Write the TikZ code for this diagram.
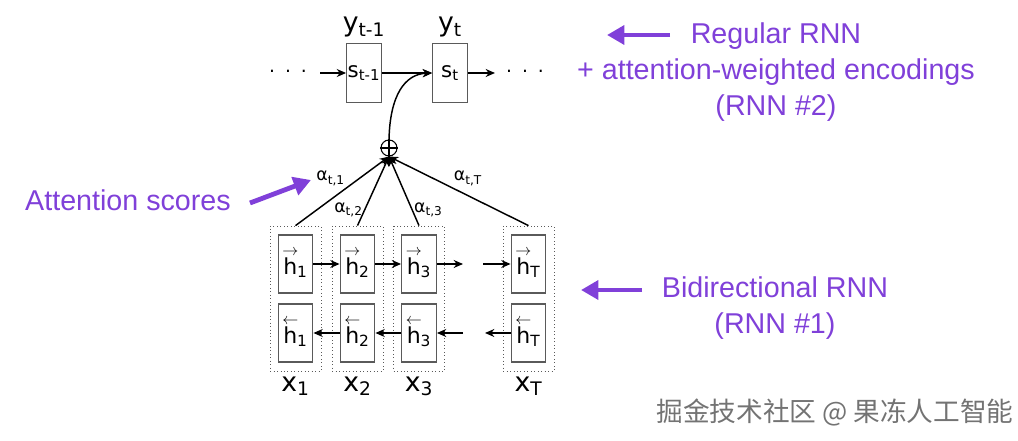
\documentclass[tikz,border=0pt]{standalone}
\usepackage{amsmath}
\usepackage{fontspec}
\setmainfont{DejaVu Sans}
\newfontfamily\notefont{Liberation Sans}
\newfontfamily\cjkfont{Noto Sans CJK SC}
\usetikzlibrary{arrows.meta, positioning, fit, calc}
\definecolor{notepurple}{RGB}{128,64,217}
\definecolor{boxgray}{RGB}{90,90,90}

% hidden state with direction arrow
\newcommand{\hfw}[1]{\makebox[0pt][l]{\raisebox{0.84em}{\makebox[0.634em]{\fontsize{12.5}{12.5}\selectfont$\rightarrow$}}}h\textsubscript{#1}}
\newcommand{\hbw}[1]{\makebox[0pt][l]{\raisebox{0.84em}{\makebox[0.634em]{\fontsize{12.5}{12.5}\selectfont$\leftarrow$}}}h\textsubscript{#1}}

\begin{document}
\begin{tikzpicture}[
    x=0.75pt, y=-0.75pt,
    >={Stealth[length=7pt,width=6pt]},
    hbox/.style={draw=boxgray, line width=0.9pt, minimum width=26pt, minimum height=43.5pt, inner sep=0pt, font=\fontsize{16.5}{16.5}\selectfont},
    sbox/.style={draw=boxgray, line width=0.9pt, minimum width=26pt, minimum height=44pt, inner sep=0pt, font=\fontsize{16}{16}\selectfont},
    colbox/.style={draw=boxgray, dotted, line width=0.6pt, inner xsep=5.6pt, inner ysep=6.3pt},
    outlabel/.style={font=\fontsize{20}{20}\selectfont, inner sep=1pt},
    wlabel/.style={font=\fontsize{13}{13}\selectfont, inner sep=1pt},
    dotlabel/.style={font=\fontsize{14}{14}\selectfont, inner sep=0pt},
    flow/.style={->, line width=1.1pt},
    note/.style={font=\notefont\fontsize{21.5}{27}\selectfont, text=notepurple, align=center},
    notearrow/.style={-{Triangle[length=13pt,width=14pt]}, line width=3.6pt, draw=notepurple}
]
    \useasboundingbox (0,0) rectangle (1018,441);

    % decoder states
    \node[sbox] (s_prev) at (364,73) {s\textsubscript{t-1}};
    \node[sbox] (s_cur) at (450,73) {s\textsubscript{t}};
    \node[outlabel] (y_prev) [above=3pt of s_prev] {y\textsubscript{t-1}};
    \node[outlabel] (y_cur) [above=3pt of s_cur] {y\textsubscript{t}};

    \node[dotlabel] (dots_in) at (288,71) {.\hspace{7.5pt}.\hspace{7.5pt}.};
    \node[dotlabel] (dots_out) at (525,71) {.\hspace{7.5pt}.\hspace{7.5pt}.};
    \coordinate (s_in) at (320,73);
    \coordinate (s_out) at (495,73);
    \draw[flow] (s_in) -- (s_prev.west);
    \draw[flow] (s_prev.east) -- (s_cur.west);
    \draw[flow] (s_cur.east) -- (s_out);

    % weighted sum
    \node[draw, circle, line width=0.8pt, minimum size=12pt, inner sep=0pt] (op) at (389,148) {};
    \draw[line width=0.8pt] (op.north) -- (op.south) (op.west) -- (op.east);
    \draw[flow] (op.north) .. controls (390,95) and (405,74) .. (s_cur.west);

    % encoder states
    \node[hbox] (hf_1) at (295.5,264) {\hfw{1}};
    \node[hbox] (hb_1) at (295.5,333) {\hbw{1}};
    \node[hbox] (hf_2) at (357.5,264) {\hfw{2}};
    \node[hbox] (hb_2) at (357.5,333) {\hbw{2}};
    \node[hbox] (hf_3) at (419,264) {\hfw{3}};
    \node[hbox] (hb_3) at (419,333) {\hbw{3}};
    \node[hbox] (hf_T) at (528.5,264) {\hfw{T}};
    \node[hbox] (hb_T) at (528.5,333) {\hbw{T}};

    \node[colbox, fit=(hf_1)(hb_1)] (col_1) {};
    \node[colbox, fit=(hf_2)(hb_2)] (col_2) {};
    \node[colbox, fit=(hf_3)(hb_3)] (col_3) {};
    \node[colbox, fit=(hf_T)(hb_T)] (col_T) {};

    \node[outlabel] (x_1) [below=3pt of col_1] {x\textsubscript{1}};
    \node[outlabel] (x_2) [below=3pt of col_2] {x\textsubscript{2}};
    \node[outlabel] (x_3) [below=3pt of col_3] {x\textsubscript{3}};
    \node[outlabel] (x_T) [below=3pt of col_T] {x\textsubscript{T}};

    \coordinate (fw_gap_l) at (463,264);
    \coordinate (fw_gap_r) at (483,264);
    \coordinate (bw_gap_l) at (463,333);
    \coordinate (bw_gap_r) at (485,333);
    \draw[flow] (hf_1) -- (hf_2);
    \draw[flow] (hf_2) -- (hf_3);
    \draw[flow] (hf_3) -- (fw_gap_l);
    \draw[flow] (fw_gap_r) -- (hf_T);
    \draw[flow] (hb_2) -- (hb_1);
    \draw[flow] (hb_3) -- (hb_2);
    \draw[flow] (bw_gap_l) -- (hb_3);
    \draw[flow] (hb_T) -- (bw_gap_r);

    % attention weights
    \draw[flow] (col_1.north) -- (op.south)
      node[wlabel, pos=0.55, above left]{α\textsubscript{t,1}};
    \draw[flow] (col_2.north) -- (op.south)
      node[wlabel, pos=0.23, left]{α\textsubscript{t,2}};
    \draw[flow] (col_3.north) -- (op.south)
      node[wlabel, pos=0.23, right]{α\textsubscript{t,3}};
    \draw[flow] (col_T.north) -- (op.south)
      node[wlabel, pos=0.55, above right]{α\textsubscript{t,T}};

    % notes
    \node[note] (reg_note) at (776,72) {Regular RNN\\+ attention-weighted encodings\\(RNN \#2)};
    \coordinate (reg_tail) at (670,35);
    \coordinate (reg_tip) at (607,35);
    \draw[notearrow] (reg_tail) -- (reg_tip);

    \node[note] (bi_note) at (775,308) {Bidirectional RNN\\(RNN \#1)};
    \coordinate (bi_tail) at (642,290);
    \coordinate (bi_tip) at (581,290);
    \draw[notearrow] (bi_tail) -- (bi_tip);

    \node[note] (att_note) at (128,200) {Attention scores};
    \coordinate (att_tail) at (250,203);
    \coordinate (att_tip) at (311,180);
    \draw[notearrow] (att_tail) -- (att_tip);

    \node[font=\cjkfont\fontsize{20}{20}\selectfont, text=black!55] (mark) at (835,412) {掘金技术社区 @ 果冻人工智能};
\end{tikzpicture}
\end{document}
